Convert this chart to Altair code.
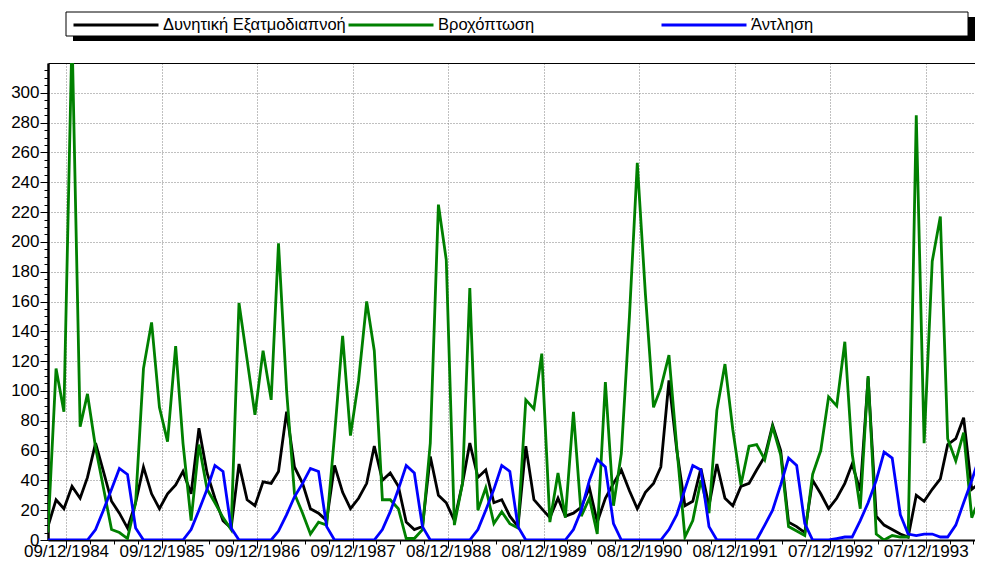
import altair as alt
import pandas as pd

FONT = "Liberation Sans, Arial, sans-serif"
START = "1984-10-01"

# Monthly values (Oct 1984 onwards)
et = [9, 27, 21, 36, 28, 42, 65, 46, 26, 18,
      8, 25, 49, 31, 21, 31, 37, 46, 31, 75,
      45, 28, 13, 8, 51, 27, 23, 39, 38, 46,
      86, 49, 38, 21, 18, 13, 50, 32, 21, 28,
      38, 63, 40, 45, 36, 12, 7, 9, 56, 30,
      25, 13, 38, 65, 42, 47, 25, 27, 16, 9,
      63, 27, 21, 15, 28, 16, 18, 22, 35, 12,
      28, 38, 47, 33, 21, 32, 38, 49, 107, 60,
      23, 26, 48, 23, 51, 28, 23, 36, 38, 47,
      56, 77, 60, 12, 9, 5, 40, 31, 21, 28,
      38, 51, 33, 109, 16, 10, 7, 4, 2, 30,
      26, 34, 41, 64, 68, 82, 34, 38]

rain = [5, 115, 86, 340, 76, 98, 62, 35, 7, 5,
        1, 25, 115, 146, 89, 66, 130, 65, 13, 64,
        34, 25, 15, 7, 159, 121, 84, 127, 94, 199,
        100, 31, 18, 4, 12, 10, 70, 137, 70, 107,
        160, 127, 27, 27, 21, 1, 1, 7, 65, 225,
        188, 10, 38, 169, 20, 35, 11, 19, 11, 8,
        94, 88, 125, 12, 45, 15, 86, 16, 28, 4,
        106, 23, 58, 150, 253, 165, 89, 102, 124, 62,
        2, 13, 40, 18, 87, 118, 74, 37, 63, 64,
        54, 76, 57, 9, 6, 3, 44, 60, 96, 90,
        133, 58, 21, 110, 4, 0, 3, 2, 2, 285,
        65, 187, 217, 68, 53, 72, 15, 28]

pump = [0, 0, 0, 0, 0, 0, 7, 20, 34, 48,
        44, 8, 0, 0, 0, 0, 0, 0, 7, 20,
        34, 50, 46, 8, 0, 0, 0, 0, 0, 6,
        17, 29, 38, 48, 46, 9, 0, 0, 0, 0,
        0, 0, 7, 19, 34, 50, 45, 9, 0, 0,
        0, 0, 0, 0, 7, 20, 34, 50, 46, 9,
        0, 0, 0, 0, 0, 0, 7, 20, 40, 54,
        49, 11, 0, 0, 0, 0, 0, 0, 7, 17,
        34, 50, 47, 9, 0, 0, 0, 0, 0, 0,
        10, 20, 37, 55, 50, 11, 0, 0, 0, 1,
        2, 2, 13, 25, 40, 59, 55, 17, 4, 3,
        4, 4, 2, 2, 10, 25, 40, 56]

names = ["Δυνητική Εξατμοδιαπνοή", "Βροχόπτωση", "Άντληση"]
colors = ["#000000", "#008000", "#0000ff"]

major_ticks = ["1984-12-09", "1985-12-09", "1986-12-09", "1987-12-09",
               "1988-12-08", "1989-12-08", "1990-12-08", "1991-12-08",
               "1992-12-07", "1993-12-07"]
x_domain = ["1984-10-01T05:00:00", "1994-06-13T10:00:00"]
y_major = list(range(0, 301, 20))
y_minor = list(range(0, 320, 5))


def ms(t):
    return int(pd.Timestamp(t).value // 1_000_000)


dates = pd.date_range(START, periods=len(et), freq="MS")
df = pd.DataFrame({"date": dates.strftime("%Y-%m-%d"), "et": et,
                   "rain": rain, "pump": pump})

major_ms = [ms(t) for t in major_ticks]
quarter = (major_ms[1] - major_ms[0]) // 4
dom = [ms(t) for t in x_domain]
minor_ms = [major_ms[0] + k * quarter for k in range(0, 60)
            if major_ms[0] + k * quarter <= dom[1]]

xscale = alt.Scale(type="utc", domain=dom, nice=False)
yscale = alt.Scale(domain=[0, 320], nice=False)

ax_x_major = alt.Axis(values=major_ms, orient="bottom",
                      labelExpr="utcFormat(datum.value, '%d/%m/%Y')",
                      tickSize=8, tickColor="black", domainColor="black",
                      domainWidth=2, grid=True, gridColor="#808080",
                      gridDash=[1, 2], gridWidth=1, labelFont=FONT,
                      labelFontSize=17, labelColor="black", labelPadding=-5,
                      labelOverlap=False, labelFlush=False, title=None)
ax_x_minor = alt.Axis(values=minor_ms, orient="bottom", tickSize=4,
                      tickColor="black", labels=False, domain=False,
                      grid=False, title=None)
ax_x_top = alt.Axis(orient="top", ticks=False, labels=False,
                    domainColor="black", domainWidth=1, grid=False, title=None)
ax_y_major = alt.Axis(values=y_major, orient="left", tickSize=8,
                      tickColor="black", domainColor="black", domainWidth=2.5,
                      grid=True, gridColor="#808080", gridDash=[1, 2],
                      gridWidth=1, labelFont=FONT, labelFontSize=17,
                      labelColor="black", labelPadding=1, labelOverlap=False,
                      title=None)
ax_y_minor = alt.Axis(values=y_minor, orient="left", tickSize=4,
                      tickColor="black", labels=False, domain=False,
                      grid=False, title=None)


def series(field, name, color, xaxis, yaxis, lx):
    leg = alt.Legend(orient="none", legendX=lx, legendY=-82,
                     symbolType="stroke", symbolSize=7225,
                     symbolStrokeWidth=2.8, labelFont=FONT, labelFontSize=16.5,
                     labelColor="black", labelOffset=3, labelLimit=400,
                     padding=0, title=None)
    return alt.Chart(df).transform_calculate(
        series=f"'{name}'"
    ).mark_line(strokeWidth=2.8, clip=True).encode(
        x=alt.X("date:T", scale=xscale, axis=xaxis),
        y=alt.Y(f"{field}:Q", scale=yscale, axis=yaxis),
        color=alt.Color("series:N",
                        scale=alt.Scale(domain=[name], range=[color]),
                        legend=leg),
    )


box_df = pd.DataFrame({"k": [0]})
shadow = alt.Chart(box_df).mark_rect(color="black").encode(
    x=alt.value(25), x2=alt.value(927), y=alt.value(-46), y2=alt.value(-22))
box = alt.Chart(box_df).mark_rect(fill="white", stroke="black",
                                  strokeWidth=1).encode(
    x=alt.value(18), x2=alt.value(920), y=alt.value(-51), y2=alt.value(-27))

l_et = series("et", names[0], colors[0], ax_x_major, ax_y_major, 24)
l_rain = series("rain", names[1], colors[1], ax_x_top, ax_y_minor, 299)
l_pump = series("pump", names[2], colors[2], ax_x_minor, None, 612)

chart = alt.layer(shadow, box, l_et, l_rain, l_pump).resolve_scale(
    color="independent"
).resolve_axis(
    x="independent", y="independent"
).properties(
    width=927, height=477,
    autosize=alt.AutoSizeParams(type="none"),
    padding={"left": 40, "top": 55, "right": 0, "bottom": 18},
).configure_view(strokeWidth=0)

chart.save("out.html", embed_options={"renderer": "svg", "actions": False})
